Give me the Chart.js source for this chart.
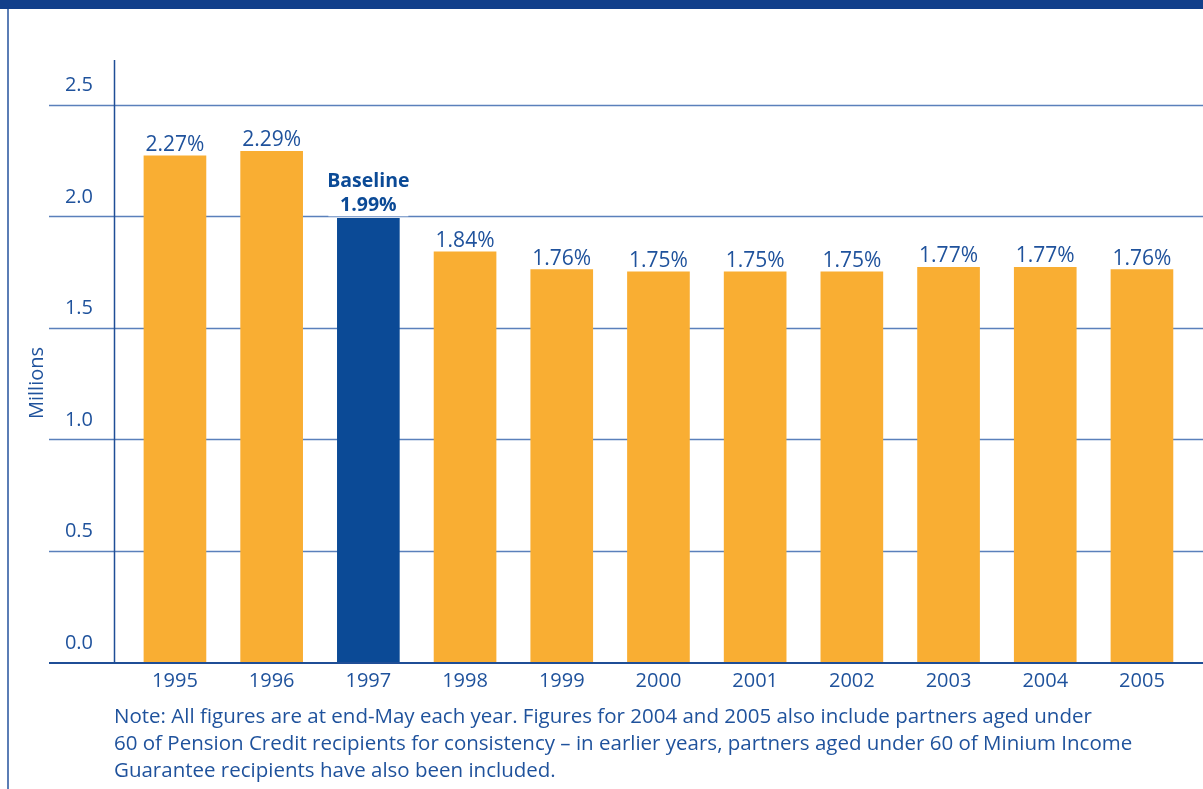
<!DOCTYPE html>
<html>
<head>
<meta charset="utf-8">
<script src="https://cdn.jsdelivr.net/npm/chart.js@4/dist/chart.umd.min.js"></script>
<style>
  html, body { margin: 0; padding: 0; background: #ffffff; }
  #wrap { width: 1203px; height: 789px; position: relative; }
</style>
</head>
<body>
<div id="wrap"><canvas id="recipients"></canvas></div>
<script>
const years = ["1995", "1996", "1997", "1998", "1999", "2000", "2001", "2002", "2003", "2004", "2005"];
const recipients = [2.27, 2.29, 1.99, 1.84, 1.76, 1.75, 1.75, 1.75, 1.77, 1.77, 1.76];
const yTicks = [0, 0.5, 1.0, 1.5, 2.0, 2.5];
const baselineYear = "1997";
const noteLines = [
  "Note: All figures are at end-May each year. Figures for 2004 and 2005 also include partners aged under",
  "60 of Pension Credit recipients for consistency \u2013 in earlier years, partners aged under 60 of Minium Income",
  "Guarantee recipients have also been included."
];

const NAVY = "#0b4a96";
const TEXT = "#1f529c";
const GRID = "#5a80bb";
const ORANGE = "#f9ae33";
const FONT = "'Open Sans', 'Noto Sans', sans-serif";

// frame, gridlines, axis labels and the note are painted around the plot area
const decor = {
  id: "decor",
  beforeDatasetsDraw(chart) {
    const { ctx, scales: { y } } = chart;
    ctx.save();
    // top band and left rule
    ctx.fillStyle = "#123f8a";
    ctx.fillRect(0, 0, 1203, 9);
    ctx.fillStyle = "#5b7db5";
    ctx.fillRect(7, 9, 2, 780);

    // horizontal gridlines
    ctx.strokeStyle = GRID;
    ctx.lineWidth = 1.5;
    yTicks.forEach(v => {
      if (v === 0) return;
      const py = Math.round(y.getPixelForValue(v)) + 0.5;
      ctx.beginPath();
      ctx.moveTo(49, py);
      ctx.lineTo(1203, py);
      ctx.stroke();
    });

    // y axis line
    ctx.strokeStyle = "#1f4e96";
    ctx.lineWidth = 1.5;
    ctx.beginPath();
    ctx.moveTo(114.5, chart.chartArea.top);
    ctx.lineTo(114.5, chart.chartArea.bottom);
    ctx.stroke();

    // tick labels sit above their gridlines
    ctx.fillStyle = TEXT;
    ctx.font = "20px " + FONT;
    ctx.textAlign = "right";
    ctx.textBaseline = "middle";
    yTicks.forEach(v => {
      ctx.fillText(v.toFixed(1), 93, y.getPixelForValue(v) - 19);
    });

    // axis title
    ctx.save();
    ctx.translate(37, 383);
    ctx.rotate(-Math.PI / 2);
    ctx.textAlign = "center";
    ctx.fillText("Millions", 0, 0);
    ctx.restore();
    ctx.restore();
  },
  afterDatasetsDraw(chart) {
    const { ctx, scales: { x, y } } = chart;
    const meta = chart.getDatasetMeta(0);
    ctx.save();

    // x axis line
    ctx.strokeStyle = "#1f4e96";
    ctx.lineWidth = 2;
    const base = y.getPixelForValue(0);
    ctx.beginPath();
    ctx.moveTo(49, base + 1);
    ctx.lineTo(1203, base + 1);
    ctx.stroke();

    ctx.fillStyle = TEXT;
    ctx.textAlign = "center";
    ctx.textBaseline = "middle";
    ctx.font = "20px " + FONT;
    years.forEach((yr, i) => {
      ctx.fillText(yr, x.getPixelForValue(i), 681);
    });

    // value labels
    meta.data.forEach((bar, i) => {
      const label = recipients[i].toFixed(2) + "%";
      ctx.textBaseline = "alphabetic";
      if (years[i] === baselineYear) {
        ctx.fillStyle = "#ffffff";
        ctx.fillRect(bar.x - 40, bar.y - 56, 80, 54);
        ctx.fillStyle = NAVY;
        ctx.font = "bold 19.5px " + FONT;
        ctx.fillText("Baseline", bar.x, bar.y - 31);
        ctx.fillText(label, bar.x, bar.y - 7);
      } else {
        ctx.fillStyle = TEXT;
        ctx.font = "21px " + FONT;
        ctx.fillText(label, bar.x, bar.y - 5);
      }
    });

    // footnote
    ctx.fillStyle = TEXT;
    ctx.font = "20.5px " + FONT;
    ctx.textAlign = "left";
    ctx.textBaseline = "middle";
    noteLines.forEach((line, i) => {
      ctx.fillText(line, 114, 717 + i * 27);
    });
    ctx.restore();
  }
};

new Chart(document.getElementById("recipients"), {
  type: "bar",
  data: {
    labels: years,
    datasets: [{
      data: recipients,
      backgroundColor: years.map(yr => yr === baselineYear ? NAVY : ORANGE),
      barThickness: 62,
      borderWidth: 0
    }]
  },
  options: {
    responsive: true,
    maintainAspectRatio: false,
    animation: false,
    layout: { padding: { left: 126.6, right: 12.7, top: 60, bottom: 127 } },
    plugins: { legend: { display: false }, tooltip: { enabled: false } },
    scales: {
      x: { display: false },
      y: { display: false, min: 0, max: 2.7 }
    }
  },
  plugins: [decor]
});
</script>
</body>
</html>
